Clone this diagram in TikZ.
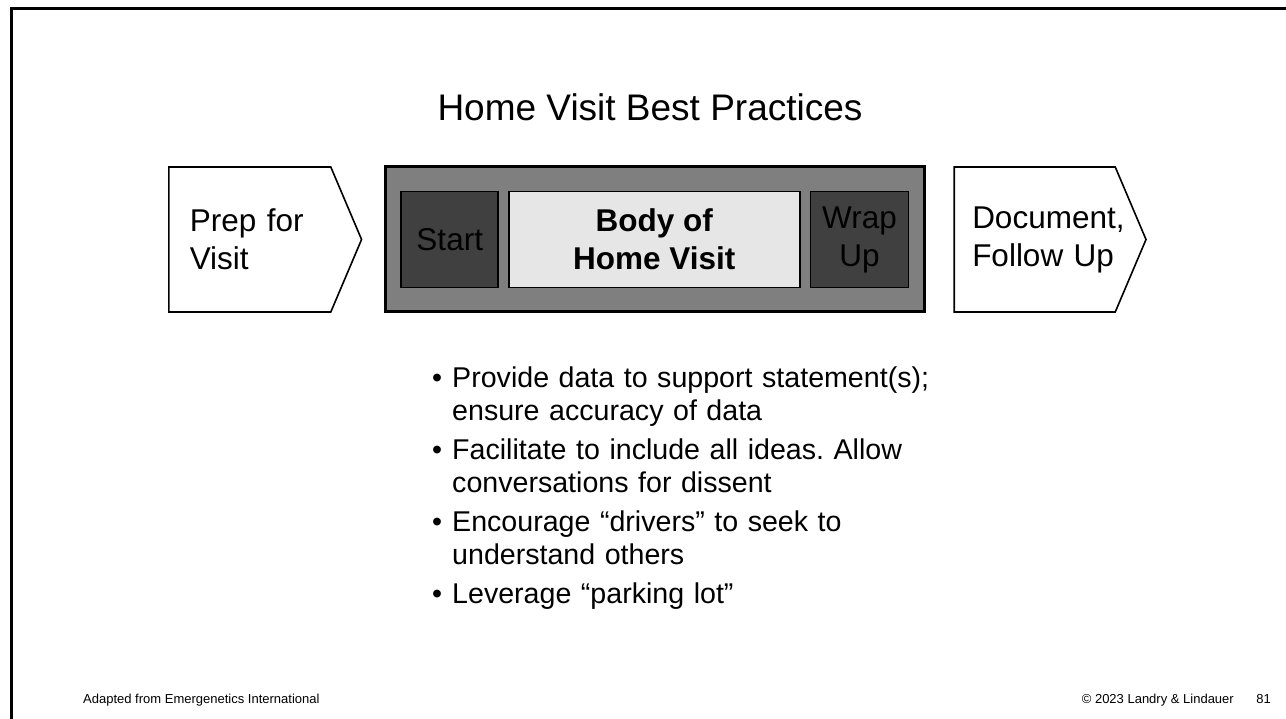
\documentclass[tikz,border=0pt]{standalone}
\usepackage{fontspec}
\setmainfont{Liberation Sans}
\usetikzlibrary{shapes.symbols, positioning}
\definecolor{panelgray}{HTML}{7F7F7F}
\definecolor{phasegray}{HTML}{404040}
\definecolor{bodygray}{HTML}{E6E6E6}

\begin{document}
\begin{tikzpicture}[
  x=1pt, y=-1pt,
  node distance=22pt,
  chevron/.style={signal, signal to=east, signal pointer angle=134, draw=black, line width=1.6pt, fill=white, minimum height=145pt, text width=120pt, inner xsep=21pt, align=left, font=\fontsize{31.5}{38}\selectfont},
  panel/.style={draw=black, line width=3pt, fill=panelgray, minimum width=539pt, minimum height=145pt, inner sep=0pt},
  phase/.style={draw=black, line width=1.6pt, fill=phasegray, minimum width=97pt, minimum height=96pt, inner sep=0pt, align=center, font=\fontsize{31.5}{38}\selectfont},
  core/.style={phase, fill=bodygray, minimum width=291pt, font=\bfseries\fontsize{31.5}{38}\selectfont},
  note/.style={inner sep=0pt, font=\fontsize{13}{15}\selectfont}
]
  \useasboundingbox (0,0) rectangle (1286,719);
  \draw[line width=3pt] (11,9) rectangle (1300,740);

  \node[anchor=base, inner sep=0pt, font=\fontsize{37}{44}\selectfont] (title) at (650,121) {Home Visit Best Practices};

  % the three phases
  \node[chevron, anchor=west] (prep) at (168,239.5) {Prep for\\Visit};
  \node[panel, right=of prep] (visit) {};
  \node[chevron, right=27pt of visit, text width=125pt, inner xsep=18pt] (doc) {Document,\\\mbox{Follow Up}};

  \node[phase, anchor=west] (start) at ([xshift=16pt]visit.west) {Start};
  \node[core, right=9pt of start] (body) {Body of\\Home Visit};
  \node[phase, minimum width=98pt, right=9pt of body] (wrap) {Wrap\\Up};

  % tips
  \node[anchor=base west, inner sep=0pt, text width=500pt, font=\fontsize{28.6}{33}\selectfont] (tips) at (432,347) {%
    \frenchspacing\setlength{\leftmargini}{20pt}%
    \begin{itemize}\setlength{\labelsep}{10pt}\setlength{\itemsep}{2pt}\setlength{\parsep}{0pt}
      \item Provide data to support statement(s); ensure accuracy of data
      \item Facilitate to include all ideas. Allow conversations for dissent
      \item Encourage ``drivers'' to seek to understand others
      \item Leverage ``parking lot''
    \end{itemize}};

  \node[note, anchor=base west] (source) at (83,703) {Adapted from Emergenetics International};
  \node[note, anchor=base east] (page) at (1271,703) {81};
  \node[note, anchor=base east] (copy) at (1234,703) {\textcopyright{} 2023 Landry \& Lindauer};
\end{tikzpicture}
\end{document}
